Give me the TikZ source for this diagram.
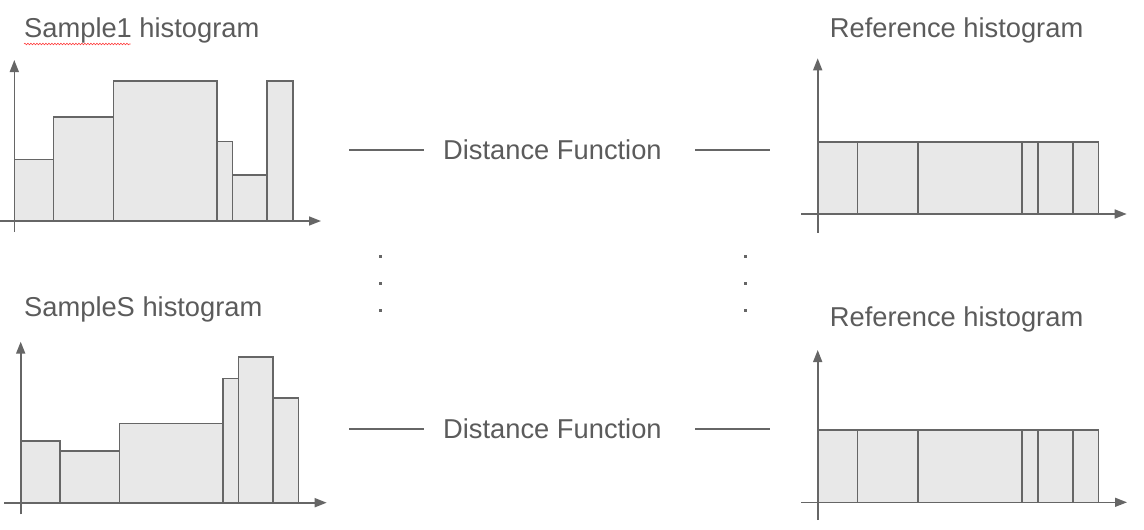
\documentclass[tikz,border=0pt]{standalone}
\usepackage{fontspec}
\setmainfont{Liberation Sans}
\usetikzlibrary{arrows.meta,decorations.pathmorphing}
\definecolor{inkgray}{HTML}{666666}
\definecolor{textgray}{HTML}{5B5B5B}
\definecolor{binfill}{HTML}{E8E8E8}
\tikzset{
    title/.style={
           inner sep=0pt,
           anchor=base west,
           text=textgray,
           font=\fontsize{27.3}{32}\selectfont
           },
    bin/.style={
           draw=inkgray,
           fill=binfill,
           line width=1.6pt
           },
    axis/.style={
           draw=inkgray,
           line width=1.6pt,
           -{Triangle[length=12pt,width=9pt]}
           },
    link/.style={draw=inkgray, line width=1.3pt},
    squiggle/.style={
           draw=red!75, line width=0.6pt,
           decorate, decoration={snake, amplitude=0.8pt, segment length=3pt}
           },
}
\begin{document}
\begin{tikzpicture}[x=1pt,y=-1pt]
            \useasboundingbox (0,0) rectangle (1144,530);

%            sample histograms
             \node[title] (S1title) at (24,37.7) {Sample1 histogram};
             \draw[squiggle] (24,44) -- (130.7,44);
             \foreach \l/\r/\h in {14.3/53.3/159.3, 53.3/113.3/116.7, 113.3/217/80.7,
                                    217/232.6/141.3, 232.6/266.7/174.7, 266.7/292.7/80.7}
                \draw[bin] (\l,221) rectangle (\r,\h);
             \draw[axis] (14.3,232) -- (14.3,60);
             \draw[axis] (0,221) -- (321,221);

             \node[title] (SStitle) at (24,316.7) {SampleS histogram};
             \foreach \l/\r/\h in {20.7/59.7/440.7, 59.7/119.3/451, 119.3/222.7/423.3,
                                    222.7/238.3/378.3, 238.3/273/357, 273/298.3/398}
                \draw[bin] (\l,502.7) rectangle (\r,\h);
             \draw[axis] (20.7,514.3) -- (20.7,341.7);
             \draw[axis] (4,502.7) -- (326.7,502.7);

%            reference histograms
             \node[title] (R1title) at (829.7,37.7) {Reference histogram};
             \foreach \l/\r in {817.7/857.3, 857.3/917.7, 917.7/1022,
                                1022/1037.7, 1037.7/1072.7, 1072.7/1098.3}
                \draw[bin] (\l,214) rectangle (\r,141.7);
             \draw[axis] (817.7,232.7) -- (817.7,58.3);
             \draw[axis] (801,214) -- (1126.7,214);

             \node[title] (RStitle) at (829.7,326) {Reference histogram};
             \foreach \l/\r in {817.7/857.3, 857.3/917.7, 917.7/1022,
                                1022/1037.7, 1037.7/1072.7, 1072.7/1098.3}
                \draw[bin] (\l,502.3) rectangle (\r,430);
             \draw[axis] (817.7,520) -- (817.7,350);
             \draw[axis] (801,502.3) -- (1127,502.3);

%            distance functions
             \node[title] (dist1) at (443,159.3) {Distance Function};
             \coordinate (d1a) at (349,150);
             \coordinate (d1b) at (424,150);
             \coordinate (d1c) at (695,150);
             \coordinate (d1d) at (770,150);
             \draw[link] (d1a) -- (d1b);
             \draw[link] (d1c) -- (d1d);

             \node[title] (distS) at (443,438.3) {Distance Function};
             \coordinate (dSa) at (349,429);
             \coordinate (dSb) at (424,429);
             \coordinate (dSc) at (695,429);
             \coordinate (dSd) at (770,429);
             \draw[link] (dSa) -- (dSb);
             \draw[link] (dSc) -- (dSd);

%            vertical dots
             \foreach \x in {380.3,745.7}
                \foreach \y in {256.7,283.3,310.7}
                   \fill[inkgray] (\x-1.5,\y-1.5) rectangle (\x+1.5,\y+1.5);

        \end{tikzpicture}
\end{document}
